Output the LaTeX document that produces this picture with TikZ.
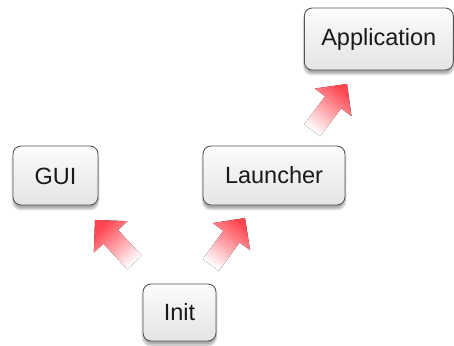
\documentclass[tikz,border=0pt]{standalone}
\usepackage{fontspec}
\setmainfont{Liberation Sans}
\usetikzlibrary{shadows.blur}
\definecolor{arrred}{RGB}{255,70,80}
\definecolor{boxline}{RGB}{85,85,85}
\definecolor{boxtop}{RGB}{252,252,252}
\definecolor{boxbot}{RGB}{228,228,228}
\tikzset{
  box/.style={draw=boxline, line width=0.9pt, rounded corners=8pt,
    top color=boxtop, bottom color=boxbot,
    blur shadow={shadow xshift=0pt, shadow yshift=-4pt, shadow blur steps=8, shadow opacity=35},
    inner sep=0pt, font=\fontsize{23.5}{27}\selectfont, text=black!90},
  fatarrow/.style={top color=arrred, bottom color=white, draw=none}
}
\newcommand{\blockarrow}[3]{% tip x, tip y, angle
  \begin{scope}[shift={(#1,#2)}, rotate=#3]
    \fill[fatarrow, shading angle=#3-90] (0,0) -- (-23,23) -- (-23,10) -- (-58,10) -- (-58,-10) -- (-23,-10) -- (-23,-23) -- cycle;
  \end{scope}}
\begin{document}
\begin{tikzpicture}[x=1pt,y=1pt]
\useasboundingbox (0,0) rectangle (454,345);
\node[box, minimum width=85pt, minimum height=59pt, text depth=0pt] (gui) at (55.5,169.5) {\raisebox{-1.5pt}{GUI}};
\node[box, minimum width=142pt, minimum height=59pt] (launcher) at (274,169.5) {\raisebox{-1.5pt}{Launcher}};
\node[box, minimum width=73pt, minimum height=57pt] (init) at (179.5,32.5) {\raisebox{-1.5pt}{Init}};
\node[box, minimum width=149pt, minimum height=62pt] (app) at (378.8,306) {\raisebox{-1.5pt}{Application}};
\blockarrow{95}{125}{133}
\blockarrow{245}{127}{54}
\blockarrow{347}{261}{53}
\end{tikzpicture}
\end{document}
